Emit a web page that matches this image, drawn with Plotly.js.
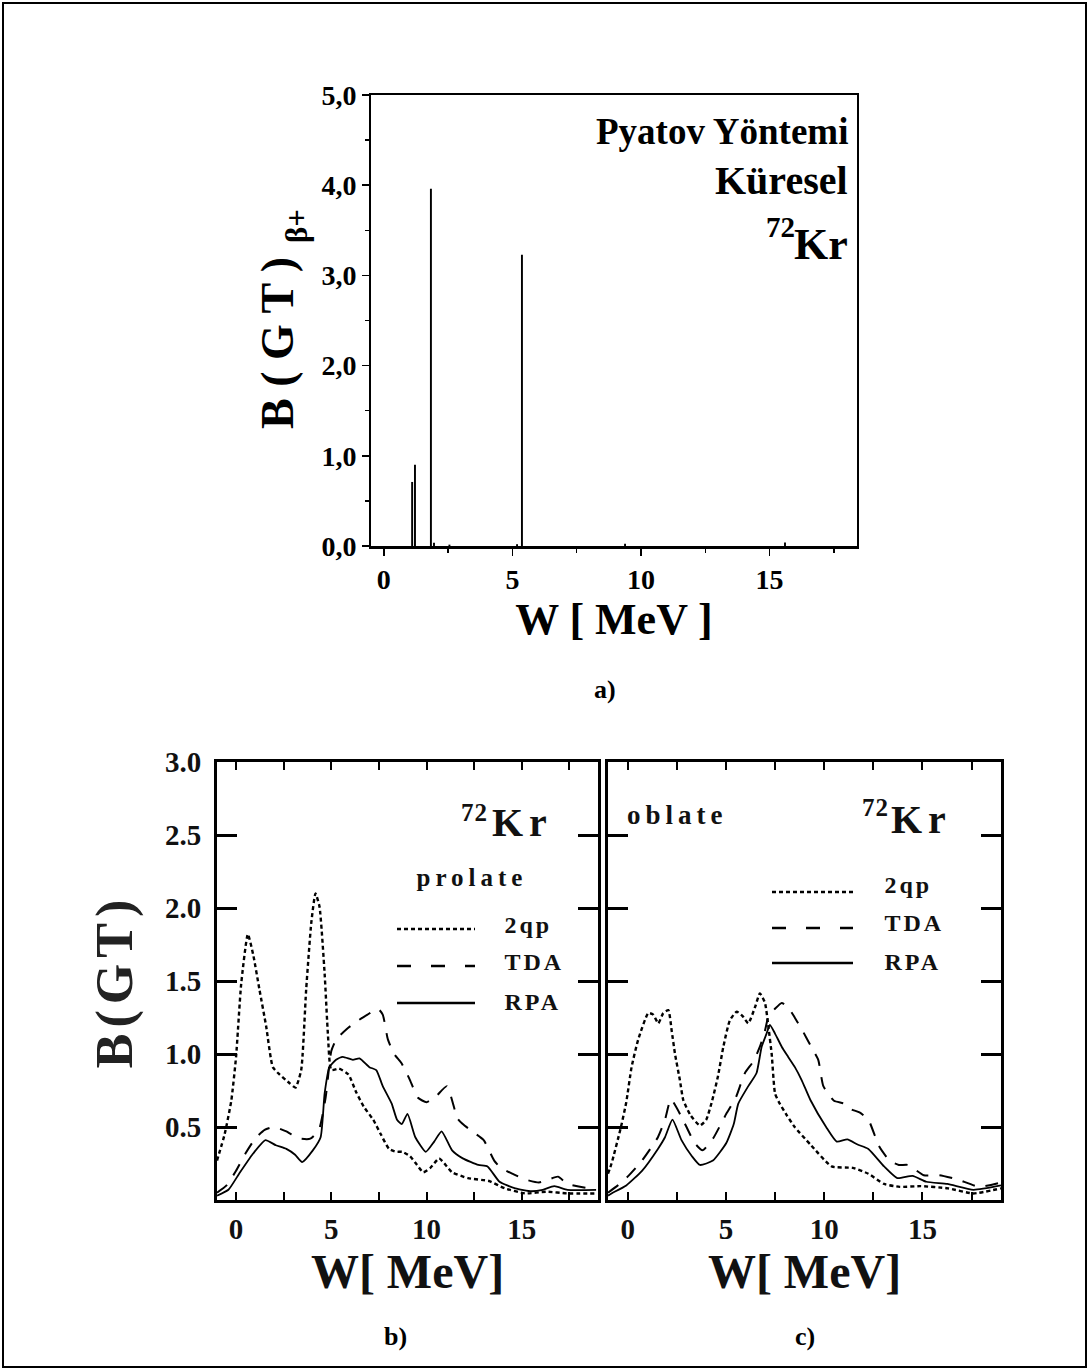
<!DOCTYPE html>
<html>
<head>
<meta charset="utf-8">
<script src="https://cdn.plot.ly/plotly-3.0.1.min.js"></script>
<style>
  html, body { margin: 0; padding: 0; background: #fff; }
  #fig { width: 1089px; height: 1371px; }
  .subplot.x2y2 .xtick text, .subplot.x2y2 .ytick text, .subplot.x3y3 .xtick text { letter-spacing: 2px; }
  .y2title { letter-spacing: 6px; }
</style>
</head>
<body>
<div id="fig"></div>
<script>
// ---------- (a) Pyatov method, spherical 72Kr : discrete B(GT) strengths ----------
const pyatovW   = [1.10, 1.21, 1.83, 1.95, 2.55, 5.18, 5.37, 9.38, 15.6];
const pyatovBGT = [0.71, 0.90, 3.96, 0.035, 0.015, 0.02, 3.23, 0.025, 0.04];
const aTickVals = [0, 5, 10, 15];
const aTickText = ['0', '5', '10', '15'];
const aMinorX = [2.5, 7.5, 12.5, 17.5];
const aYTickVals = [0, 1, 2, 3, 4, 5];
const aYTickText = ['0,0', '1,0', '2,0', '3,0', '4,0', '5,0'];
const aMinorY = [0.5, 1.5, 2.5, 3.5, 4.5];

// ---------- (b) prolate 72Kr : folded strength distributions ----------
const prolate2qpW = [-1, -0.6, -0.25, 0, 0.27, 0.62, 0.9, 1.23, 1.58, 1.93, 2.28, 2.81, 3.12, 3.42, 3.68, 3.95, 4.17, 4.38, 4.65, 4.82, 5.0, 5.4, 5.9, 6.3, 6.7, 7.2, 7.6, 8.03, 8.4, 8.72, 9.13, 9.5, 9.83, 10.2, 10.66, 11.0, 11.34, 12.17, 13.28, 14.1, 15.2, 16.3, 17.4, 18.9];
const prolate2qp  = [0.27, 0.45, 0.68, 0.98, 1.48, 1.82, 1.68, 1.44, 1.19, 0.91, 0.86, 0.80, 0.77, 0.89, 1.44, 1.90, 2.10, 2.01, 1.55, 1.14, 0.89, 0.90, 0.86, 0.74, 0.64, 0.55, 0.45, 0.35, 0.33, 0.33, 0.30, 0.24, 0.19, 0.22, 0.285, 0.24, 0.19, 0.15, 0.13, 0.08, 0.045, 0.057, 0.045, 0.045];

const prolateTdaW = [-1, -0.5, 0, 0.5, 1.0, 1.5, 2.0, 2.64, 2.9, 3.4, 3.9, 4.35, 4.7, 5.0, 5.26, 5.8, 6.3, 6.9, 7.45, 7.7, 7.97, 8.3, 8.67, 9.1, 9.55, 10.0, 10.5, 11.07, 11.62, 11.9, 12.5, 13.0, 13.55, 13.9, 14.5, 15.2, 15.9, 16.4, 16.9, 17.4, 18.5, 18.9];
const prolateTda  = [0.05, 0.10, 0.20, 0.32, 0.42, 0.48, 0.50, 0.47, 0.45, 0.42, 0.42, 0.48, 0.70, 1.02, 1.10, 1.17, 1.22, 1.27, 1.31, 1.27, 1.10, 1.00, 0.94, 0.83, 0.70, 0.67, 0.71, 0.78, 0.56, 0.52, 0.46, 0.41, 0.27, 0.22, 0.18, 0.14, 0.12, 0.14, 0.16, 0.11, 0.08, 0.08];

const prolateRpaW = [-1, -0.4, 0.16, 0.85, 1.54, 2.09, 2.64, 3.1, 3.47, 4.03, 4.44, 4.65, 4.9, 5.25, 5.6, 6.13, 6.48, 7.0, 7.36, 7.7, 8.17, 8.45, 8.7, 9.0, 9.41, 9.96, 10.4, 10.79, 11.34, 11.9, 12.72, 13.2, 13.83, 14.66, 15.5, 16.1, 16.7, 17.4, 18.9];
const prolateRpa  = [0.03, 0.07, 0.18, 0.31, 0.41, 0.375, 0.35, 0.31, 0.26, 0.34, 0.43, 0.73, 0.91, 0.96, 0.98, 0.96, 0.97, 0.91, 0.89, 0.78, 0.66, 0.55, 0.52, 0.59, 0.43, 0.33, 0.40, 0.47, 0.34, 0.285, 0.24, 0.23, 0.125, 0.08, 0.06, 0.07, 0.095, 0.07, 0.07];

// ---------- (c) oblate 72Kr ----------
const oblate2qpW = [-1, -0.82, -0.34, -0.07, 0.2, 0.54, 1.05, 1.3, 1.56, 1.81, 2.07, 2.24, 2.41, 2.66, 2.83, 3.2, 3.68, 4.0, 4.3, 4.6, 4.87, 5.2, 5.55, 5.85, 6.14, 6.48, 6.73, 6.99, 7.16, 7.33, 7.5, 7.7, 8.1, 8.5, 9.3, 10.38, 11.45, 12.25, 13.05, 13.85, 14.9, 16.3, 17.6, 19];
const oblate2qp  = [0.18, 0.25, 0.50, 0.67, 0.91, 1.10, 1.28, 1.27, 1.21, 1.28, 1.30, 1.16, 1.00, 0.82, 0.685, 0.58, 0.51, 0.55, 0.68, 0.85, 1.05, 1.23, 1.29, 1.26, 1.21, 1.32, 1.415, 1.35, 1.19, 1.00, 0.73, 0.67, 0.58, 0.50, 0.38, 0.23, 0.22, 0.18, 0.11, 0.09, 0.095, 0.08, 0.045, 0.08];

const oblateTdaW = [-1, -0.5, 0.0, 0.73, 1.54, 1.9, 2.2, 2.74, 3.41, 3.81, 4.34, 5.02, 5.5, 5.97, 6.4, 6.73, 6.99, 7.16, 7.5, 7.84, 8.17, 8.5, 8.94, 9.3, 9.7, 9.96, 10.5, 11.04, 11.4, 11.8, 12.25, 12.79, 13.33, 13.8, 14.27, 15.07, 15.87, 16.8, 17.9, 19];
const oblateTda  = [0.05, 0.10, 0.16, 0.27, 0.43, 0.55, 0.69, 0.57, 0.39, 0.34, 0.42, 0.59, 0.70, 0.87, 0.95, 1.05, 1.16, 1.255, 1.31, 1.35, 1.32, 1.25, 1.15, 1.06, 0.96, 0.78, 0.68, 0.66, 0.62, 0.60, 0.55, 0.37, 0.27, 0.24, 0.24, 0.17, 0.17, 0.14, 0.09, 0.12];

const oblateRpaW = [-1, -0.82, -0.07, 0.73, 1.54, 1.9, 2.28, 2.74, 3.27, 3.68, 4.34, 5.02, 5.4, 5.63, 6.14, 6.56, 6.82, 7.07, 7.24, 7.5, 7.84, 8.17, 8.51, 8.86, 9.3, 10.1, 10.64, 11.18, 11.7, 12.25, 13.05, 13.72, 14.5, 15.2, 16.27, 17.6, 19];
const oblateRpa  = [0.03, 0.045, 0.10, 0.20, 0.35, 0.43, 0.55, 0.41, 0.30, 0.24, 0.27, 0.39, 0.52, 0.66, 0.78, 0.87, 1.05, 1.14, 1.20, 1.14, 1.05, 0.98, 0.91, 0.82, 0.685, 0.50, 0.40, 0.415, 0.38, 0.35, 0.23, 0.15, 0.165, 0.125, 0.11, 0.07, 0.10];

const bcTickVals = [0, 5, 10, 15];
const bcTickText = ['0', '5', '10', '15'];
const bcMinorX = [2.5, 7.5, 12.5, 17.5];
const bcYTickVals = [0.5, 1.0, 1.5, 2.0, 2.5, 3.0];
const bcYTickText = ['0.5', '1.0', '1.5', '2.0', '2.5', '3.0'];
const seriesNames = ['2qp', 'TDA', 'RPA'];

// ---------- page geometry (pixels -> paper fractions) ----------
const PW = 1089, PH = 1371;
const fx = v => v / PW;
const fy = v => 1 - v / PH;
const SERIF = '"Liberation Serif", "Times New Roman", Times, serif';
const ink = '#000';
const ink2 = '#111';

const dashes = { '2qp': '4px,3px', 'TDA': '13px,11px', 'RPA': 'solid' };
const widths = { '2qp': 2.4, 'TDA': 2.0, 'RPA': 1.8 };

function curve(w, v, name, xa, ya) {
  return {
    type: 'scatter', mode: 'lines', x: w, y: v, name: name,
    xaxis: xa, yaxis: ya, hoverinfo: 'skip',
    line: { color: ink, width: widths[name], dash: dashes[name], shape: 'spline', smoothing: 0.5 }
  };
}

const traces = [
  {
    type: 'bar', x: pyatovW, y: pyatovBGT, width: 0.075,
    marker: { color: ink, line: { width: 0 } }, xaxis: 'x', yaxis: 'y', hoverinfo: 'skip'
  },
  curve(prolate2qpW, prolate2qp, '2qp', 'x2', 'y2'),
  curve(prolateTdaW, prolateTda, 'TDA', 'x2', 'y2'),
  curve(prolateRpaW, prolateRpa, 'RPA', 'x2', 'y2'),
  curve(oblate2qpW, oblate2qp, '2qp', 'x3', 'y3'),
  curve(oblateTdaW, oblateTda, 'TDA', 'x3', 'y3'),
  curve(oblateRpaW, oblateRpa, 'RPA', 'x3', 'y3')
];

const tickFontA = { family: SERIF, size: 28, color: ink, weight: 'bold' };
const tickFontBC = { family: SERIF, size: 29, color: ink2, weight: 'bold' };
const titleFont = (size, color) => ({ family: SERIF, size: size, color: color, weight: 'bold' });

const bcX = (dom, ya) => ({
  domain: dom, anchor: ya, range: [-1, 19], showgrid: false, zeroline: false,
  showline: true, linecolor: ink, linewidth: 3, mirror: 'ticks',
  ticks: 'inside', ticklen: 8, tickwidth: 2, tickcolor: ink,
  tickmode: 'array', tickvals: bcTickVals, ticktext: bcTickText,
  tickfont: tickFontBC, ticklabelstandoff: 1,
  minor: { tickvals: bcMinorX, ticks: 'inside', ticklen: 8, tickwidth: 2, tickcolor: ink },
  title: { text: 'W[ MeV]', font: titleFont(48, ink2), standoff: 4 }
});
const bcY = (xa, showLabels, title) => ({
  domain: [fy(1200), fy(762)], anchor: xa, range: [0, 3], showgrid: false, zeroline: false,
  showline: true, linecolor: ink, linewidth: 3, mirror: 'ticks',
  ticks: 'inside', ticklen: 20, tickwidth: 3, tickcolor: ink,
  tickmode: 'array', tickvals: bcYTickVals, ticktext: bcYTickText,
  showticklabels: showLabels, tickfont: tickFontBC, ticklabelstandoff: 7,
  title: title ? { text: title, font: titleFont(52, '#222'), standoff: 16 } : undefined
});

// ---------- text labels ----------
const annotations = [];
const spaced = [];
function label(text, x, y, size, opts) {
  const o = opts || {};
  annotations.push({
    xref: 'paper', yref: 'paper', x: fx(x), y: fy(y), text: text, showarrow: false,
    xanchor: o.xanchor || 'center', yanchor: 'middle', textangle: o.angle || 0,
    font: { family: SERIF, size: size, color: o.color || ink, weight: 'bold' }
  });
  if (o.spacing) spaced.push([annotations.length - 1, o.spacing]);
}

// panel (a)
label('Pyatov Yöntemi', 850, 132, 37, { xanchor: 'right' });
label('Küresel', 850, 180, 40, { xanchor: 'right' });
label('Kr', 850, 244, 44, { xanchor: 'right' });
label('72', 797, 227, 29, { xanchor: 'right' });
label('B ( G T )', 277, 343, 46, { angle: -90 });
label('β+', 296, 226, 31, { angle: -90 });
label('a)', 605, 690, 26);

// panel (b)
label('Kr', 549, 822, 40, { xanchor: 'right', color: ink2, spacing: 6 });
label('72', 489, 812, 25, { xanchor: 'right', color: ink2, spacing: 1 });
label('prolate', 432, 877, 25, { xanchor: 'left', color: ink2, spacing: 5 });
label(seriesNames[0], 507, 925, 24, { xanchor: 'left', color: ink2, spacing: 3 });
label(seriesNames[1], 507, 962, 24, { xanchor: 'left', color: ink2, spacing: 3 });
label(seriesNames[2], 507, 1002, 24, { xanchor: 'left', color: ink2, spacing: 3 });
label('b)', 395, 1336, 26);

// panel (c)
label('oblate', 640, 815, 27, { xanchor: 'left', color: ink2, spacing: 5 });
label('Kr', 948, 819, 40, { xanchor: 'right', color: ink2, spacing: 6 });
label('72', 890, 808, 25, { xanchor: 'right', color: ink2, spacing: 1 });
label(seriesNames[0], 887, 885, 24, { xanchor: 'left', color: ink2, spacing: 3 });
label(seriesNames[1], 887, 923, 24, { xanchor: 'left', color: ink2, spacing: 3 });
label(seriesNames[2], 887, 962, 24, { xanchor: 'left', color: ink2, spacing: 3 });
label('c)', 805, 1336, 26);

// letter spacing for the spaced-out labels of panels b and c
const css = spaced.map(([i, s]) => `.annotation[data-index="${i}"] text { letter-spacing: ${s}px; }`).join('\n');
const st = document.createElement('style');
st.textContent = css;
document.head.appendChild(st);

// ---------- legend samples and frame ----------
function sample(name, x0, x1, y) {
  return {
    type: 'line', xref: 'paper', yref: 'paper', x0: fx(x0), x1: fx(x1), y0: fy(y), y1: fy(y),
    line: { color: ink, width: 2.5, dash: name === 'TDA' ? '14px,20px' : dashes[name] }
  };
}
const shapes = [
  { type: 'rect', xref: 'paper', yref: 'paper', x0: fx(3), x1: fx(1086), y0: fy(1367), y1: fy(3),
    line: { color: ink, width: 2 }, fillcolor: 'rgba(0,0,0,0)' },
  sample('2qp', 397, 475, 929), sample('TDA', 397, 475, 966), sample('RPA', 397, 475, 1003),
  sample('2qp', 772, 853, 892), sample('TDA', 772, 853, 928), sample('RPA', 772, 853, 963)
];

const layout = {
  width: PW, height: PH,
  margin: { l: 0, r: 0, t: 0, b: 0 },
  paper_bgcolor: '#fff', plot_bgcolor: 'rgba(0,0,0,0)',
  showlegend: false,
  font: { family: SERIF, color: ink },
  xaxis: {
    domain: [fx(371), fx(857)], anchor: 'y', range: [-0.5, 18.4],
    showgrid: false, zeroline: false, showline: true, linecolor: ink, linewidth: 2.5, mirror: true,
    ticks: 'outside', ticklen: 7, tickwidth: 1.5, tickcolor: ink,
    tickmode: 'array', tickvals: aTickVals, ticktext: aTickText, tickfont: tickFontA,
    ticklabelstandoff: 0,
    minor: { tickvals: aMinorX, ticks: 'outside', ticklen: 4, tickwidth: 1.5, tickcolor: ink },
    title: { text: 'W [ MeV ]', font: titleFont(44, ink), standoff: 2 }
  },
  yaxis: {
    domain: [fy(546), fy(95)], anchor: 'x', range: [0, 5],
    showgrid: false, zeroline: false, showline: true, linecolor: ink, linewidth: 2, mirror: true,
    ticks: 'outside', ticklen: 7, tickwidth: 1.5, tickcolor: ink,
    tickmode: 'array', tickvals: aYTickVals, ticktext: aYTickText, tickfont: tickFontA,
    minor: { tickvals: aMinorY, ticks: 'outside', ticklen: 4, tickwidth: 1.5, tickcolor: ink }
  },
  xaxis2: bcX([fx(217), fx(598)], 'y2'),
  yaxis2: bcY('x2', true, 'B(GT)'),
  xaxis3: bcX([fx(608), fx(1001)], 'y3'),
  yaxis3: bcY('x3', false, null),
  annotations: annotations,
  shapes: shapes
};

Plotly.newPlot('fig', traces, layout, { staticPlot: true, displayModeBar: false });
</script>
</body>
</html>
